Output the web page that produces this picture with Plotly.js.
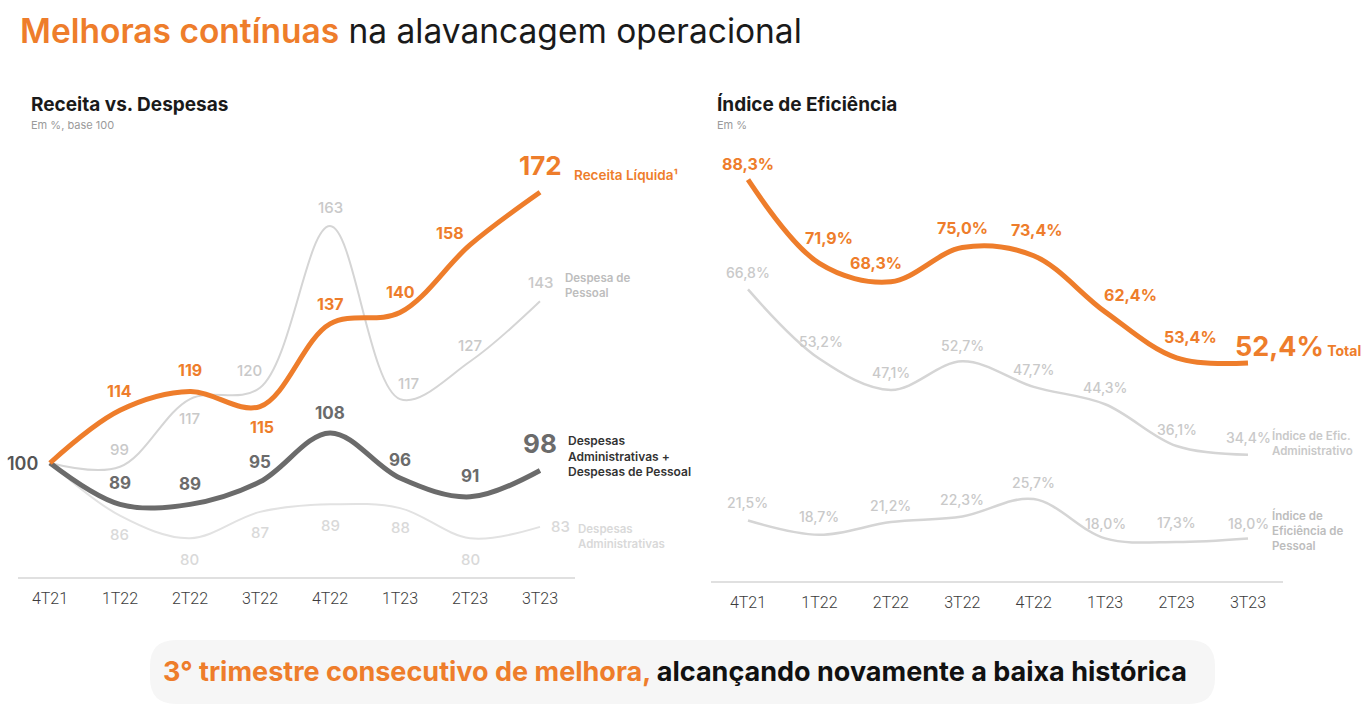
<!DOCTYPE html>
<html>
<head>
<meta charset="utf-8">
<script src="https://cdn.plot.ly/plotly-3.0.1.min.js"></script>
<style>
  html, body { margin: 0; padding: 0; background: #ffffff; }
  #chart { width: 1366px; height: 714px; }
</style>
</head>
<body>
<div id="chart"></div>
<script>
// ---------- DATA ----------
const quarters = ['4T21', '1T22', '2T22', '3T22', '4T22', '1T23', '2T23', '3T23'];

// Receita vs. Despesas (Em %, base 100)
const receitaLiquida   = [100, 114, 119, 115, 137, 140, 158, 172];
const despesaPessoal   = [100,  99, 117, 120, 163, 117, 127, 143];
const despesasAdmPess  = [100,  89,  89,  95, 108,  96,  91,  98];
const despesasAdm      = [100,  86,  80,  87,  89,  88,  80,  83];

// Índice de Eficiência (Em %)
const eficTotal   = [88.3, 71.9, 68.3, 75.0, 73.4, 62.4, 53.4, 52.4];
const eficAdm     = [66.8, 53.2, 47.1, 52.7, 47.7, 44.3, 36.1, 34.4];
const eficPessoal = [21.5, 18.7, 21.2, 22.3, 25.7, 18.0, 17.3, 18.0];

// ---------- STYLE ----------
const W = 1366, H = 714;
const ORANGE = '#EE7D2B';
const DARK = '#6b6b6b';
const LIGHT = '#d5d5d5';
const LIGHTER = '#e2e2e2';
const LBL_LIGHT = '#c9c9c9';
const LBL_LIGHTER = '#d9d9d9';
const FONT = 'Inter, "Noto Sans", sans-serif';
const px = x => x / W;
const py = y => 1 - y / H;

// label offsets [xshift, yshift] per point (style only)
const offReceita  = [null, [0,19], [0,22], [2,-20], [0,20], [0,21], [-20,12], [0,27]];
const offPessoal  = [null, [0,17], [0,-19], [-10,17], [0,19], [8,16], [0,16], [0,19]];
const offAdmPess  = [null, [0,21], [0,20], [0,20], [0,20], [0,18], [0,21], [0,27]];
const offAdm      = [null, [0,-19], [0,-21], [0,-21], [0,-21], [0,-19], [0,-21], [20,0]];
const offEfTotal  = [[0,16], [10,25], [-15,19], [0,20], [3,26], [25,17], [14,21], null];
const offEfAdm    = [[0,17], [2,17], [0,17], [0,16], [0,17], [0,17], [0,17], [0,17]];
const offEfPess   = [[0,18], [0,18], [0,17], [0,17], [0,17], [0,15], [0,19], [0,15]];

const fmtInt = v => String(v);
const fmtPct = v => v.toFixed(1).replace('.', ',') + '%';

const annotations = [];
function valLabels(xref, yref, vals, offs, fmt, font, bigLast) {
  vals.forEach((v, i) => {
    const o = offs[i];
    if (!o) return;
    let f = Object.assign({}, font);
    if (bigLast && i === vals.length - 1) f = Object.assign(f, { size: bigLast, weight: 700 });
    annotations.push({
      xref: xref, yref: yref, x: quarters[i], y: v,
      text: fmt(v), showarrow: false, xanchor: 'center', yanchor: 'middle',
      xshift: o[0], yshift: o[1], font: f
    });
  });
}

// left chart labels
valLabels('x', 'y', despesasAdm, offAdm, fmtInt, { family: FONT, size: 15, color: LBL_LIGHTER, weight: 500 });
valLabels('x', 'y', despesaPessoal, offPessoal, fmtInt, { family: FONT, size: 15, color: LBL_LIGHT, weight: 500 });
valLabels('x', 'y', despesasAdmPess, offAdmPess, fmtInt, { family: FONT, size: 17, color: DARK, weight: 700 }, 26);
valLabels('x', 'y', receitaLiquida, offReceita, fmtInt, { family: FONT, size: 16, color: ORANGE, weight: 700 }, 26);
annotations.push({
  xref: 'x', yref: 'y', x: quarters[0], y: receitaLiquida[0], text: fmtInt(receitaLiquida[0]),
  showarrow: false, xanchor: 'center', yanchor: 'middle', xshift: -27, yshift: -1,
  font: { family: FONT, size: 18, color: '#555555', weight: 600 }
});

// right chart labels
valLabels('x2', 'y2', eficPessoal, offEfPess, fmtPct, { family: FONT, size: 14, color: LBL_LIGHT, weight: 500 });
valLabels('x2', 'y2', eficAdm, offEfAdm, fmtPct, { family: FONT, size: 14, color: LBL_LIGHT, weight: 500 });
valLabels('x2', 'y2', eficTotal, offEfTotal, fmtPct, { family: FONT, size: 16, color: ORANGE, weight: 700 });
const last = quarters.length - 1;
annotations.push({
  xref: 'x2', yref: 'y2', x: quarters[last], y: eficTotal[last],
  text: fmtPct(eficTotal[last]) + '<span style="font-size:14px"> Total</span>',
  showarrow: false, xanchor: 'left', yanchor: 'middle', xshift: -15, yshift: 16,
  font: { family: FONT, size: 27, color: ORANGE, weight: 700 }
});

// series side labels (anchored to last point)
function sideLabel(xref, yref, val, text, xs, ys, color, size) {
  annotations.push({
    xref: xref, yref: yref, x: quarters[last], y: val, text: text,
    showarrow: false, xanchor: 'left', yanchor: 'middle', align: 'left',
    xshift: xs, yshift: ys, font: { family: FONT, size: size || 11, color: color, weight: 600 }
  });
}
sideLabel('x', 'y', receitaLiquida[last], 'Receita Líquida¹', 32, 17, ORANGE, 13.5);
sideLabel('x', 'y', despesaPessoal[last], 'Despesa de<br>Pessoal', 23, 16, '#bdbdbd', 11.5);
sideLabel('x', 'y', despesasAdmPess[last], 'Despesas<br>Administrativas +<br>Despesas de Pessoal', 26, 15, '#333333', 12);
sideLabel('x', 'y', despesasAdm[last], 'Despesas<br>Administrativas', 36, -10, LBL_LIGHTER, 11.5);
sideLabel('x2', 'y2', eficAdm[last], 'Índice de Efic.<br>Administrativo', 22, 12, LBL_LIGHT, 11.5);
sideLabel('x2', 'y2', eficPessoal[last], 'Índice de<br>Eficiência de<br>Pessoal', 22, 8, '#bdbdbd', 11.5);

// titles
function paperText(x, y, text, font, xanchor) {
  annotations.push({ xref: 'paper', yref: 'paper', x: px(x), y: py(y), text: text, showarrow: false,
    xanchor: xanchor || 'left', yanchor: 'middle', font: font });
}
paperText(18, 31, '<span style="color:' + ORANGE + ';font-weight:600">Melhoras contínuas</span> na alavancagem operacional',
  { family: FONT, size: 33.5, color: '#1a1a1a', weight: 400 });
paperText(29, 104, 'Receita vs. Despesas', { family: FONT, size: 19, color: '#1a1a1a', weight: 700 });
paperText(29, 125, 'Em %, base 100', { family: FONT, size: 11, color: '#9a9a9a', weight: 400 });
paperText(715, 104, 'Índice de Eficiência', { family: FONT, size: 19, color: '#1a1a1a', weight: 700 });
paperText(715, 125, 'Em %', { family: FONT, size: 11, color: '#9a9a9a', weight: 400 });
paperText(675, 671, '<span style="color:' + ORANGE + '">3° trimestre consecutivo de melhora,</span> alcançando novamente a baixa histórica',
  { family: FONT, size: 27, color: '#111111', weight: 700 }, 'center');

// banner (rounded rectangle)
const bx1 = 150, bx2 = 1215, by1 = 640, by2 = 704, r = 26;
const bannerPath = [
  'M', px(bx1 + r), py(by1),
  'L', px(bx2 - r), py(by1),
  'Q', px(bx2), py(by1), px(bx2), py(by1 + r),
  'L', px(bx2), py(by2 - r),
  'Q', px(bx2), py(by2), px(bx2 - r), py(by2),
  'L', px(bx1 + r), py(by2),
  'Q', px(bx1), py(by2), px(bx1), py(by2 - r),
  'L', px(bx1), py(by1 + r),
  'Q', px(bx1), py(by1), px(bx1 + r), py(by1), 'Z'
].join(' ');

// ---------- TRACES ----------
function line(y, xa, ya, color, width) {
  return { x: quarters, y: y, xaxis: xa, yaxis: ya, type: 'scatter', mode: 'lines',
    line: { color: color, width: width, shape: 'spline', smoothing: 1 }, hoverinfo: 'skip', showlegend: false };
}
const traces = [
  line(despesasAdm, 'x', 'y', LIGHTER, 2),
  line(despesaPessoal, 'x', 'y', LIGHT, 2),
  line(despesasAdmPess, 'x', 'y', DARK, 5),
  line(receitaLiquida, 'x', 'y', ORANGE, 5),
  line(eficPessoal, 'x2', 'y2', LIGHT, 2.5),
  line(eficAdm, 'x2', 'y2', LIGHT, 2.5),
  line(eficTotal, 'x2', 'y2', ORANGE, 5)
];

const xaxisBase = {
  type: 'category', showline: true, linecolor: '#e0e0e0', linewidth: 2,
  showgrid: false, zeroline: false, ticks: '', ticklabelstandoff: 6,
  tickfont: { family: 'Roboto, sans-serif', size: 16, color: '#3c3c3c', weight: 300 },
  fixedrange: true
};

const layout = {
  width: W, height: H,
  margin: { l: 0, r: 0, t: 0, b: 0 },
  paper_bgcolor: '#ffffff', plot_bgcolor: 'rgba(0,0,0,0)',
  showlegend: false,
  xaxis: Object.assign({}, xaxisBase, { domain: [px(18), px(575)], range: [-0.457, 7.5], anchor: 'y' }),
  yaxis: { domain: [py(577), py(143)], range: [69.68, 185.1], visible: false, fixedrange: true },
  xaxis2: Object.assign({}, xaxisBase, { domain: [px(711), px(1283)], range: [-0.518, 7.49], anchor: 'y2' }),
  yaxis2: { domain: [py(581), py(143)], range: [9.65, 95.5], visible: false, fixedrange: true, anchor: 'x2' },
  shapes: [{ type: 'path', xref: 'paper', yref: 'paper', path: bannerPath,
    fillcolor: '#f6f6f6', line: { width: 0 }, layer: 'below' }],
  annotations: annotations
};

Plotly.newPlot('chart', traces, layout, { displayModeBar: false, staticPlot: true });
</script>
</body>
</html>
